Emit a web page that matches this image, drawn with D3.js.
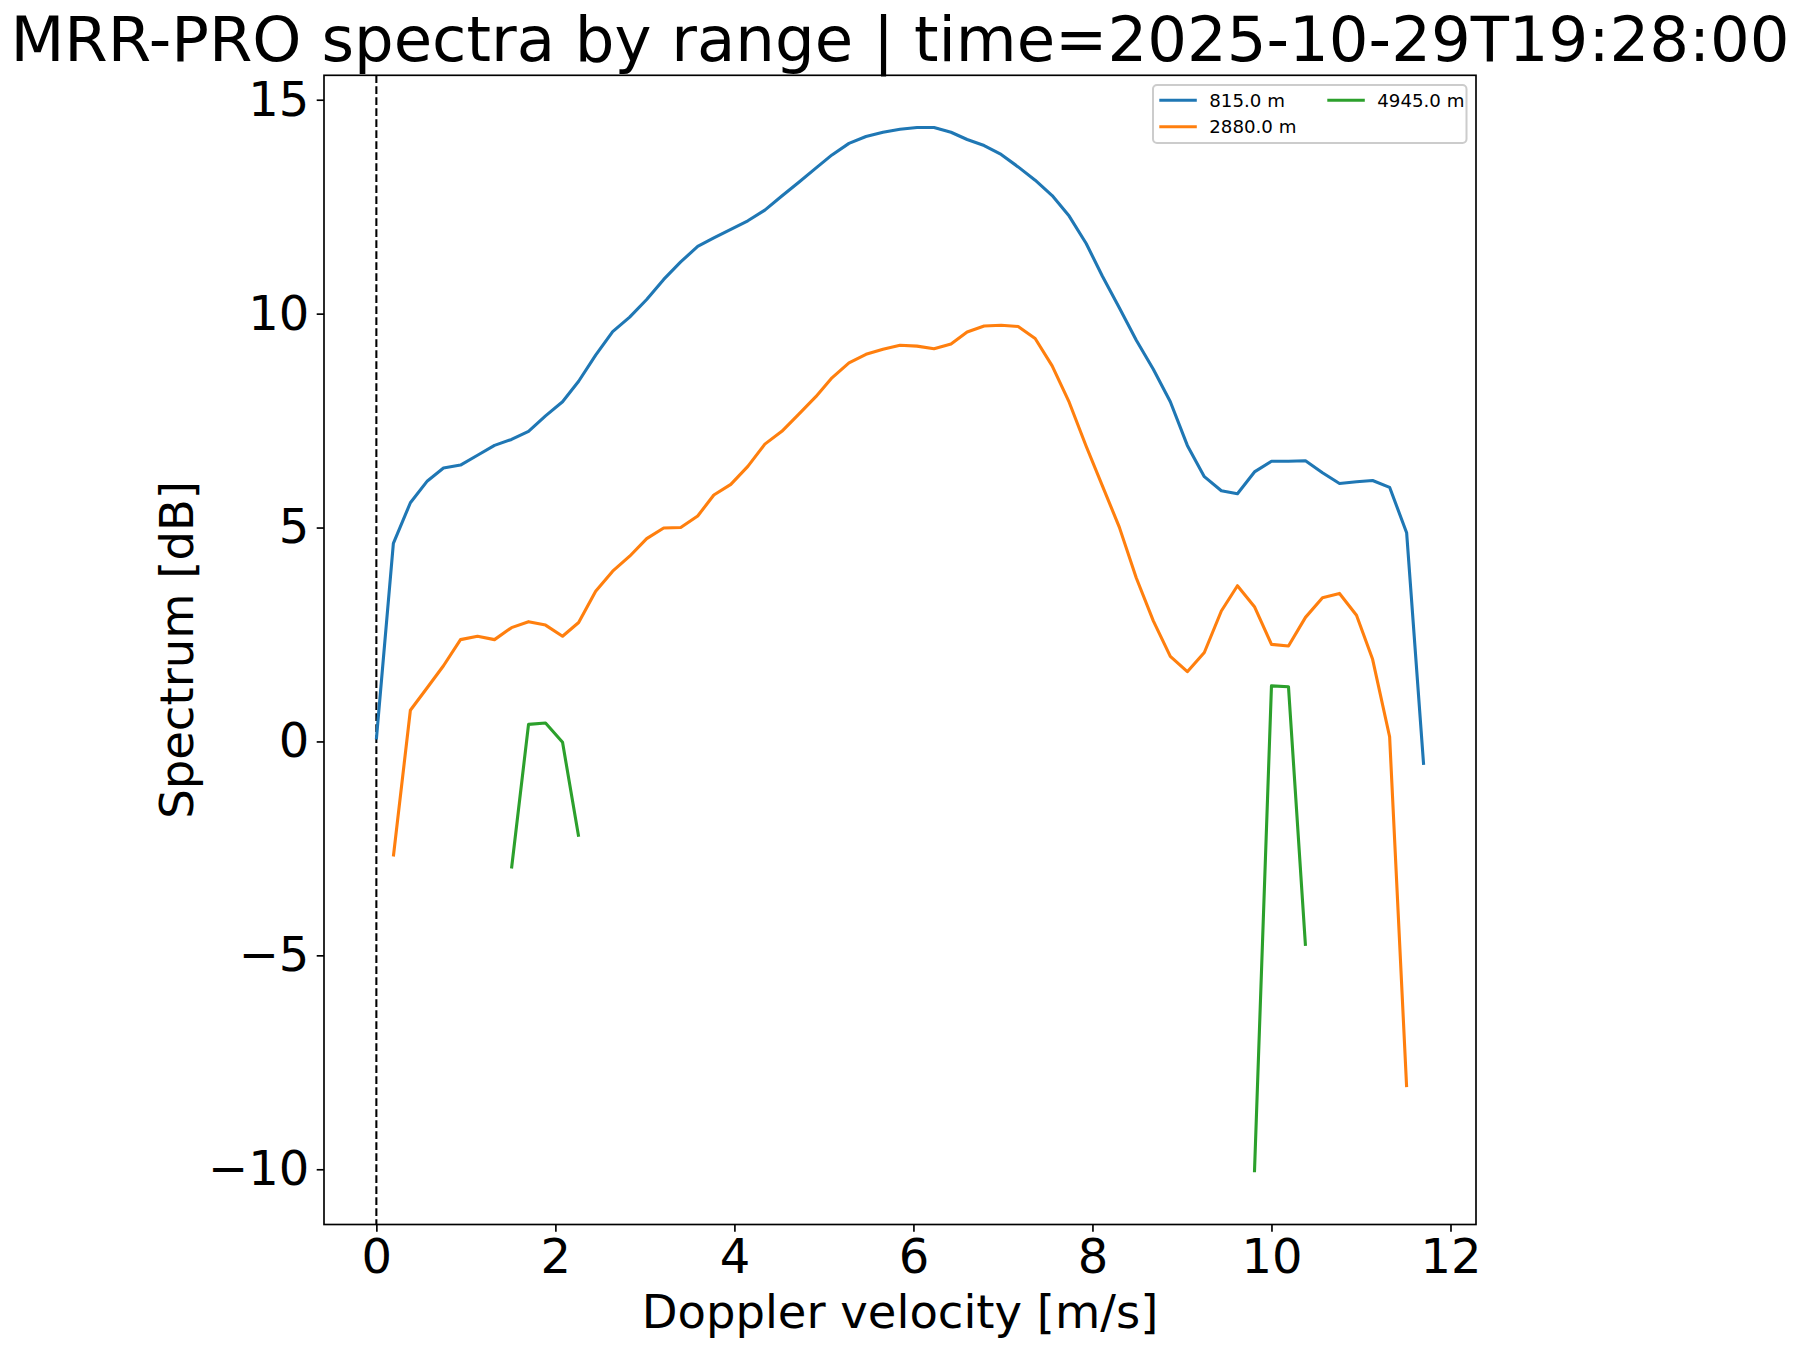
<!DOCTYPE html>
<html lang="en">
<head>
    <meta charset="UTF-8">
    <title>MRR-PRO spectra by range</title>
    <script src="https://d3js.org/d3.v7.min.js"></script>
    <style>
        body { margin: 0; background: #fff; }
        text { font-family: "DejaVu Sans", sans-serif; }
    </style>
</head>
<body>
    <div id="chart"></div>
    <script>
        // chart data
        const velocity = [
            0.00, 0.19, 0.38, 0.57, 0.75, 0.94, 1.13, 1.32, 1.51, 1.70,
            1.89, 2.08, 2.26, 2.45, 2.64, 2.83, 3.02, 3.21, 3.40, 3.59,
            3.77, 3.96, 4.15, 4.34, 4.53, 4.72, 4.91, 5.09, 5.28, 5.47,
            5.66, 5.85, 6.04, 6.23, 6.42, 6.60, 6.79, 6.98, 7.17, 7.36,
            7.55, 7.74, 7.93, 8.11, 8.30, 8.49, 8.68, 8.87, 9.06, 9.25,
            9.44, 9.62, 9.81, 10.00, 10.19, 10.38, 10.57, 10.76, 10.95, 11.13,
            11.32, 11.51, 11.70
        ];
        const spec815 = [
            0.05, 4.63, 5.58, 6.09, 6.39, 6.46, 6.69, 6.92, 7.06, 7.25,
            7.61, 7.94, 8.42, 9.03, 9.58, 9.92, 10.33, 10.80, 11.21, 11.57,
            11.77, 11.97, 12.17, 12.42, 12.75, 13.07, 13.40, 13.71, 13.98, 14.14,
            14.24, 14.31, 14.35, 14.35, 14.24, 14.07, 13.93, 13.72, 13.43, 13.12,
            12.76, 12.28, 11.64, 10.88, 10.14, 9.38, 8.70, 7.94, 6.92, 6.19,
            5.86, 5.79, 6.30, 6.55, 6.55, 6.56, 6.28, 6.03, 6.07, 6.10,
            5.94, 4.88, -0.55
        ];
        const spec2880 = [
            null, -2.69, 0.73, 1.26, 1.77, 2.38, 2.46, 2.38, 2.66, 2.80,
            2.72, 2.46, 2.78, 3.51, 3.98, 4.33, 4.74, 4.99, 5.00, 5.27,
            5.76, 6.01, 6.43, 6.95, 7.25, 7.65, 8.06, 8.50, 8.85, 9.05,
            9.17, 9.26, 9.24, 9.18, 9.29, 9.57, 9.71, 9.73, 9.70, 9.42,
            8.78, 7.93, 6.90, 5.98, 5.01, 3.82, 2.82, 1.99, 1.63, 2.08,
            3.05, 3.64, 3.15, 2.27, 2.23, 2.90, 3.36, 3.46, 2.95, 1.92,
            0.11, -8.08, null
        ];
        const spec4945 = [
            null, null, null, null, null, null, null, null, -2.97, 0.40,
            0.43, -0.02, -2.23, null, null, null, null, null, null, null,
            null, null, null, null, null, null, null, null, null, null,
            null, null, null, null, null, null, null, null, null, null,
            null, null, null, null, null, null, null, null, null, null,
            null, null, -10.07, 1.30, 1.28, -4.78, null, null, null, null,
            null, null, null
        ];
        const seriesNames = ["815.0 m", "2880.0 m", "4945.0 m"];
        const xTicks = [0, 2, 4, 6, 8, 10, 12];
        const yTicks = [-10, -5, 0, 5, 10, 15];

        const colors = ["#1f77b4", "#ff7f0e", "#2ca02c"];
        const series = [spec815, spec2880, spec4945].map((vals, k) => ({
            name: seriesNames[k],
            color: colors[k],
            points: vals.map((v, i) => ({x: velocity[i], y: v}))
        }));

        // figure and axes box (matplotlib-like)
        const W = 1799, H = 1350;
        const margin = {top: 75.3, right: 323, bottom: 125.5, left: 324};
        const width = W - margin.left - margin.right;
        const height = H - margin.top - margin.bottom;

        const svg = d3.select("#chart")
            .append("svg")
            .attr("width", W)
            .attr("height", H);

        const g = svg.append("g")
            .attr("transform", `translate(${margin.left},${margin.top})`);

        // autoscale with 5% margins
        const allPts = series.flatMap(s => s.points.filter(p => p.y != null));
        const [x0, x1] = d3.extent(allPts, p => p.x);
        const [y0, y1] = d3.extent(allPts, p => p.y);
        const xPad = (x1 - x0) * 0.05, yPad = (y1 - y0) * 0.05;

        const x = d3.scaleLinear().domain([x0 - xPad, x1 + xPad]).range([0, width]);
        const y = d3.scaleLinear().domain([y0 - yPad, y1 + yPad]).range([height, 0]);

        // dashed line at zero velocity
        g.append("line")
            .attr("x1", x(0)).attr("x2", x(0))
            .attr("y1", 0).attr("y2", height)
            .attr("stroke", "#000")
            .attr("stroke-width", 2.08)
            .attr("stroke-dasharray", "7.7,3.3");

        // spectra lines
        const line = d3.line()
            .defined(p => p.y != null)
            .x(p => x(p.x))
            .y(p => y(p.y));

        g.selectAll("path.series")
            .data(series)
            .join("path")
            .attr("class", "series")
            .attr("d", s => line(s.points))
            .attr("fill", "none")
            .attr("stroke", s => s.color)
            .attr("stroke-width", 3.1)
            .attr("stroke-linejoin", "round")
            .attr("stroke-linecap", "butt");

        // axes
        const xAxis = g.append("g")
            .attr("transform", `translate(0,${height})`)
            .call(d3.axisBottom(x).tickValues(xTicks).tickSize(7.3).tickPadding(7.3).tickSizeOuter(0));
        const yAxis = g.append("g")
            .call(d3.axisLeft(y).tickValues(yTicks).tickSize(7.3).tickPadding(7.3).tickSizeOuter(0));

        [xAxis, yAxis].forEach(a => {
            a.select(".domain").remove();
            a.selectAll(".tick line").attr("stroke", "#000").attr("stroke-width", 1.67);
            a.selectAll(".tick text")
                .attr("fill", "#000")
                .style("font-family", "'DejaVu Sans'")
                .style("font-size", "48px");
        });

        // frame
        g.append("rect")
            .attr("width", width).attr("height", height)
            .attr("fill", "none")
            .attr("stroke", "#000")
            .attr("stroke-width", 1.67);

        // labels
        svg.append("text")
            .attr("x", margin.left + width / 2)
            .attr("y", 61)
            .attr("text-anchor", "middle")
            .style("font-size", "62.5px")
            .text("MRR-PRO spectra by range | time=2025-10-29T19:28:00");

        svg.append("text")
            .attr("x", margin.left + width / 2)
            .attr("y", 1328)
            .attr("text-anchor", "middle")
            .style("font-size", "46.5px")
            .text("Doppler velocity [m/s]");

        svg.append("text")
            .attr("transform", `translate(193,${margin.top + height / 2}) rotate(-90)`)
            .attr("text-anchor", "middle")
            .style("font-size", "46.5px")
            .text("Spectrum [dB]");

        // legend, 2 columns
        const lg = svg.append("g");
        lg.append("rect")
            .attr("x", 1153).attr("y", 85)
            .attr("width", 313.5).attr("height", 58)
            .attr("rx", 4)
            .attr("fill", "#fff").attr("fill-opacity", 0.8)
            .attr("stroke", "#cccccc").attr("stroke-width", 2);

        const slots = [
            {cx: 1159.3, cy: 100.3},
            {cx: 1159.3, cy: 126.8},
            {cx: 1327.3, cy: 100.3}
        ];
        series.forEach((s, k) => {
            const p = slots[k];
            lg.append("line")
                .attr("x1", p.cx).attr("x2", p.cx + 37.5)
                .attr("y1", p.cy).attr("y2", p.cy)
                .attr("stroke", s.color).attr("stroke-width", 3.1);
            lg.append("text")
                .attr("x", p.cx + 50)
                .attr("y", p.cy)
                .attr("dominant-baseline", "central")
                .style("font-size", "18.2px")
                .text(s.name);
        });
    </script>
</body>
</html>
